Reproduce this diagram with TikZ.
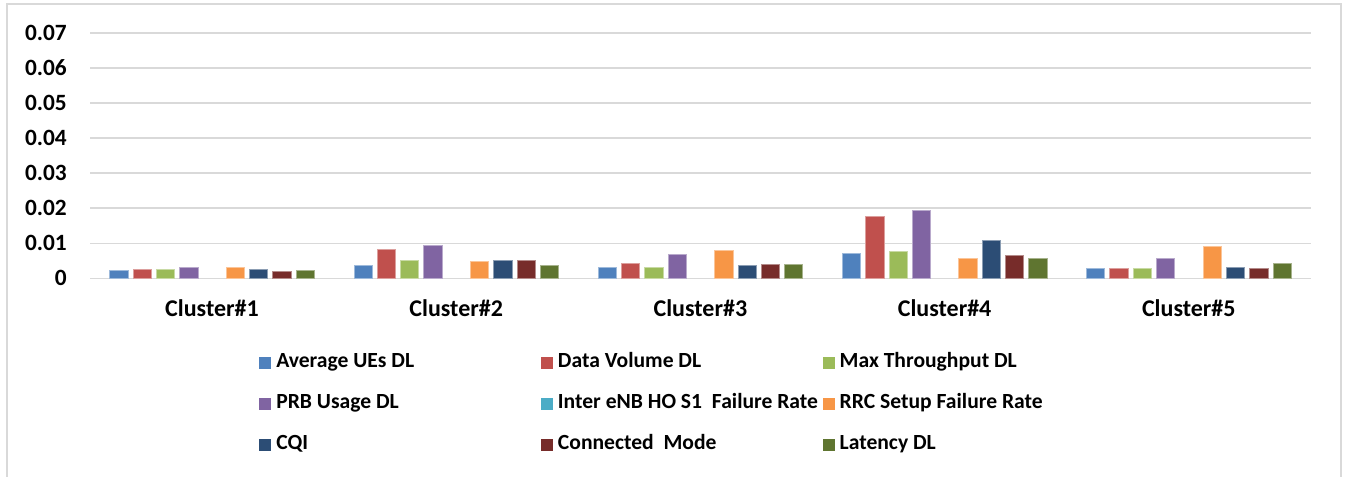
\documentclass[tikz,border=0pt]{standalone}
\usepackage{fontspec}
\setmainfont{Carlito}
\usepackage{tikz}
% Excel 2010 series colours
\definecolor{ser0}{HTML}{4F81BD}
\definecolor{ser1}{HTML}{C0504D}
\definecolor{ser2}{HTML}{9BBB59}
\definecolor{ser3}{HTML}{8064A2}
\definecolor{ser4}{HTML}{4BACC6}
\definecolor{ser5}{HTML}{F79646}
\definecolor{ser6}{HTML}{2C4D75}
\definecolor{ser7}{HTML}{772C2A}
\definecolor{ser8}{HTML}{5F7530}
\definecolor{gridgray}{HTML}{D9D9D9}
\tikzset{font=\bfseries}
\tikzset{
  gridline/.style={draw=gridgray, line width=1.1pt},
  bar/.style={fill=#1, draw=#1!55!white, line width=0.6pt},
  ticklabel/.style={anchor=base east, inner sep=0pt, font=\fontsize{17.5}{21}\selectfont\bfseries},
  catlabel/.style={anchor=base, inner sep=0pt, font=\fontsize{18}{22}\selectfont\bfseries},
  legkey/.style={fill=#1, minimum size=9pt, inner sep=0pt},
  legtext/.style={anchor=base west, inner sep=0pt, font=\fontsize{16.2}{19}\selectfont\bfseries}
}

\begin{document}
\begin{tikzpicture}[x={(0.75pt,0)}, y={(0,-0.75pt)}]
  \useasboundingbox (0,0) rectangle (1346,477);
  % chart frame (bottom edge is cut off)
  \draw[gridgray, line width=1.1pt] (7,477) -- (7,4) -- (1341,4) -- (1341,477);

  % grid and value axis
  \foreach \k in {0,...,7} {
    \draw[gridline] (90,278.3-35.05*\k) -- (1311,278.3-35.05*\k);
    \pgfmathsetmacro\tick{\k==0 ? "0" : "0.0\k"}
    \node[ticklabel] (t\k) at (67,285.9-35.05*\k) {\tick};
  }

  % bars, one group per cluster
  \foreach \vals [count=\c from 0] in {
    {.0023,.0026,.0026,.0030,0,.0030,.0026,.0020,.0023},
    {.0038,.0083,.0051,.0093,0,.0048,.0050,.0052,.0037},
    {.0031,.0043,.0032,.0068,0,.0080,.0038,.0040,.0039},
    {.0070,.0176,.0078,.0194,0,.0058,.0109,.0066,.0058},
    {.0029,.0029,.0027,.0057,0,.0090,.0032,.0029,.0043}} {
    \foreach \v [count=\s from 0] in \vals {
      \ifdim \v pt > 0pt
        \draw[bar=ser\s] (109.7+244.2*\c+23.3*\s,278.3) rectangle ++(18.3,-3505*\v);
      \fi
    }
    \pgfmathtruncatemacro\cn{\c+1}
    \node[catlabel] (cl\c) at (212+244.2*\c,316.7) {Cluster\#\cn};
  }

  % legend, three per row
  \foreach \name [count=\s from 0] in {Average UEs DL, Data Volume DL, Max Throughput DL,
      PRB Usage DL, Inter eNB HO S1~ Failure Rate, RRC Setup Failure Rate,
      CQI, Connected~ Mode, Latency DL} {
    \pgfmathtruncatemacro\row{int(\s/3)}
    \pgfmathtruncatemacro\col{mod(\s,3)}
    \node[legkey=ser\s] (k\s) at (265.3+281.7*\col,362.8+41*\row) {};
    \node[legtext] (l\s) at (276+281.7*\col,367.3+41*\row) {\name};
  }
\end{tikzpicture}
\end{document}
